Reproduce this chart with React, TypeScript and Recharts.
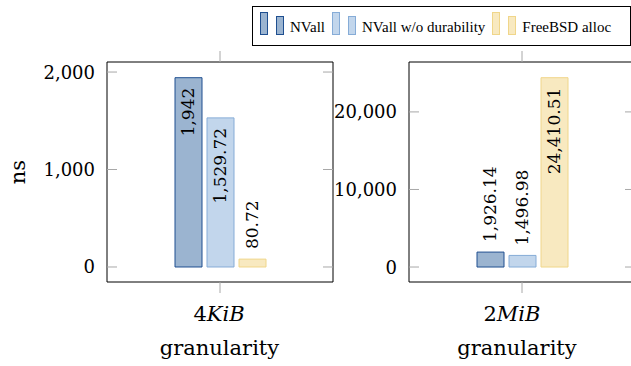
import {BarChart, Bar, XAxis, YAxis, LabelList} from 'recharts';

// values
const granularities = ['4KiB', '2MiB'];
const nvall = [1942, 1926.14];
const nvallNoDurability = [1529.72, 1496.98];
const freebsdAlloc = [80.72, 24410.51];
const yTicks = [
    [0, 1000, 2000],
    [0, 10000, 20000],
];
const yDomains = [
    [-154, 2103],
    [-1930, 26435],
];

const FONT = "'DejaVu Serif', serif";
const PLOT_W = 226;

const colors = {
    nvall: {fill: '#9bb4d0', stroke: '#1f4f90'},
    nodur: {fill: '#c2d6ec', stroke: '#86acd7'},
    bsd: {fill: '#f8e9c0', stroke: '#f0d68a'},
};

const fmt = (v: number) => v.toLocaleString('en-US', {maximumFractionDigits: 2});

const BarLabel = (props: any) => {
    const {x, y, width, height, value} = props;
    const cx = Number(x) + Number(width) / 2;
    const text = fmt(Number(value));
    const inside = Number(height) > text.length * 10 + 20;
    const ty = inside ? Number(y) + 10 : Number(y) - 10;
    return (
        <text
            x={cx}
            y={ty}
            transform={`rotate(-90 ${cx} ${ty})`}
            textAnchor={inside ? 'end' : 'start'}
            dominantBaseline='central'
            fontFamily={FONT}
            fontSize={17}
            fill='#000'
        >
            {text}
        </text>
    );
};

const YTick = (props: any) => {
    const {x, y, payload} = props;
    const left = Number(x) + 12;
    return (
        <g>
            <line x1={left} x2={left + 10} y1={y} y2={y} stroke='#a8a8a8' />
            <line x1={left + PLOT_W - 10} x2={left + PLOT_W} y1={y} y2={y} stroke='#a8a8a8' />
            <text x={x} y={y} dy='0.36em' textAnchor='end' fontFamily={FONT} fontSize={18} fill='#000'>
                {fmt(payload.value)}
            </text>
        </g>
    );
};

const makeXTick = (shift: number) => (props: any) => {
    const {x, y, payload} = props;
    const num = payload.value.charAt(0);
    const unit = payload.value.slice(1);
    return (
        <g fontFamily={FONT} fill='#000'>
            <text x={Number(x) + shift} y={Number(y) + 26} textAnchor='middle' fontSize={21}>
                <tspan>{num}</tspan>
                <tspan fontStyle='italic'>{unit}</tspan>
            </text>
            <text x={Number(x) + shift / 2} y={Number(y) + 60} textAnchor='middle' fontSize={21}>
                granularity
            </text>
        </g>
    );
};

const NsTitle = ({viewBox}: any) => {
    const cx = 25;
    const cy = viewBox.y + viewBox.height / 2;
    return (
        <text
            x={cx}
            y={cy}
            transform={`rotate(-90 ${cx} ${cy})`}
            textAnchor='middle'
            fontFamily={FONT}
            fontSize={21}
            fill='#000'
        >
            ns
        </text>
    );
};

const Panel = ({idx, left, yAxisWidth, showTitle}: {idx: number; left: number; yAxisWidth: number; showTitle: boolean}) => {
    const data = [
        {
            g: granularities[idx],
            nvall: nvall[idx],
            nodur: nvallNoDurability[idx],
            bsd: freebsdAlloc[idx],
        },
    ];
    const width = yAxisWidth + PLOT_W + 6;
    return (
        <div style={{position: 'absolute', left, top: 0}}>
            <BarChart
                width={width}
                height={366}
                data={data}
                margin={{top: 61, right: 5, bottom: 0, left: 0}}
                barSize={27}
                barGap={5}
            >
                <XAxis
                    dataKey='g'
                    height={84}
                    axisLine={{stroke: '#000'}}
                    tickLine={{stroke: '#a8a8a8'}}
                    tickSize={11}
                    tick={makeXTick(idx === 0 ? -1 : -10)}
                />
                <XAxis
                    xAxisId='top'
                    dataKey='g'
                    orientation='top'
                    height={1}
                    axisLine={{stroke: '#000'}}
                    tickLine={{stroke: '#a8a8a8'}}
                    tickSize={11}
                    tick={() => <g />}
                />
                <YAxis
                    width={yAxisWidth}
                    domain={yDomains[idx]}
                    allowDataOverflow
                    ticks={yTicks[idx]}
                    tickSize={0}
                    tickMargin={12}
                    tickLine={false}
                    axisLine={{stroke: '#000'}}
                    tick={<YTick />}
                    label={showTitle ? {position: 'insideLeft', content: <NsTitle />} : undefined}
                />
                <YAxis
                    yAxisId='r'
                    orientation='right'
                    width={1}
                    domain={yDomains[idx]}
                    allowDataOverflow
                    tick={false}
                    tickLine={false}
                    axisLine={{stroke: '#000'}}
                />
                <Bar dataKey='nvall' fill={colors.nvall.fill} stroke={colors.nvall.stroke} isAnimationActive={false}>
                    <LabelList dataKey='nvall' content={<BarLabel />} />
                </Bar>
                <Bar dataKey='nodur' fill={colors.nodur.fill} stroke={colors.nodur.stroke} isAnimationActive={false}>
                    <LabelList dataKey='nodur' content={<BarLabel />} />
                </Bar>
                <Bar dataKey='bsd' fill={colors.bsd.fill} stroke={colors.bsd.stroke} isAnimationActive={false}>
                    <LabelList dataKey='bsd' content={<BarLabel />} />
                </Bar>
            </BarChart>
        </div>
    );
};

const legendItems = [
    {name: 'NVall', c: colors.nvall},
    {name: 'NVall w/o durability', c: colors.nodur},
    {name: 'FreeBSD alloc', c: colors.bsd},
];

const Legend2 = () => (
    <div
        style={{
            position: 'absolute',
            left: 252,
            top: 6,
            width: 379,
            height: 40,
            border: '1px solid #000',
            boxSizing: 'border-box',
            display: 'flex',
            alignItems: 'center',
            paddingLeft: 7,
            fontFamily: "'Liberation Serif', serif",
            fontSize: 15,
            whiteSpace: 'nowrap',
            background: '#fff',
        }}
    >
        {legendItems.map((it) => (
            <div key={it.name} style={{display: 'flex', alignItems: 'center', marginRight: 7}}>
                <svg width={24} height={38} style={{display: 'block'}}>
                    <rect x={0.5} y={5.5} width={7} height={22} fill={it.c.fill} stroke={it.c.stroke} />
                    <rect x={16.5} y={9.5} width={7} height={18} fill={it.c.fill} stroke={it.c.stroke} />
                </svg>
                <span style={{marginLeft: 6, marginTop: 2}}>{it.name}</span>
            </div>
        ))}
    </div>
);

const App = () => (
    <div style={{position: 'absolute', left: 0, top: 0, width: 631, height: 366, overflow: 'hidden', background: '#fff'}}>
        <Panel idx={0} left={0} yAxisWidth={107} showTitle />
        <Panel idx={1} left={300} yAxisWidth={109} showTitle={false} />
        <Legend2 />
    </div>
);

export default App;
